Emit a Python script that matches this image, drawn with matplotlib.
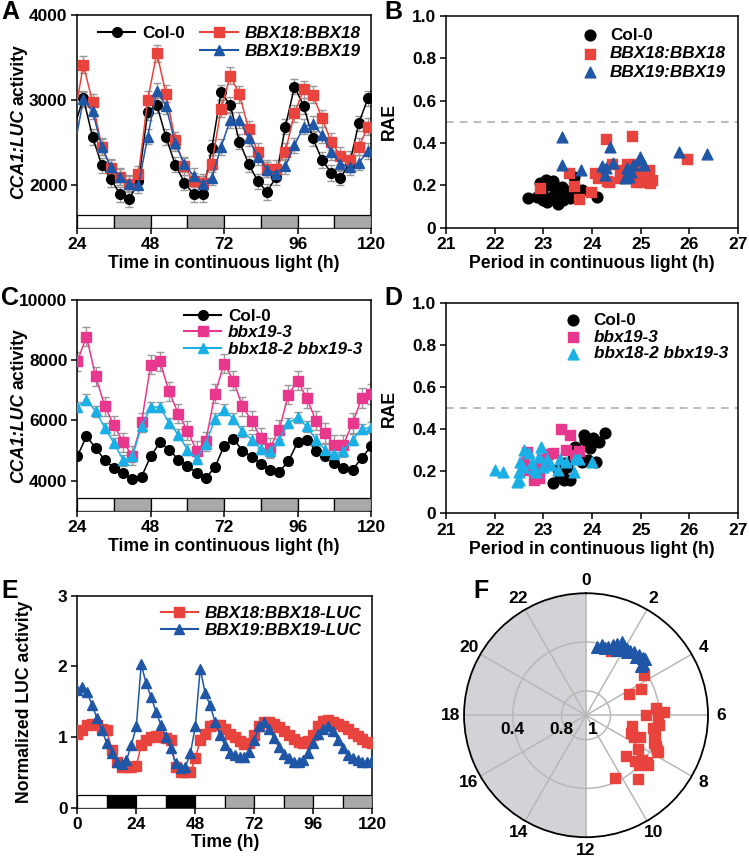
import numpy as np
import matplotlib.pyplot as plt
from matplotlib.lines import Line2D

plt.rcParams['font.family'] = 'Liberation Sans'
plt.rcParams['font.weight'] = 'bold'
plt.rcParams['axes.labelweight'] = 'bold'

# ---- data -------------------------------------------------------------
# A: CCA1:LUC in complemented lines (h in LL)
t_a = np.arange(23, 123, 3)
col0_a = [2690, 3024, 2567, 2236, 2071, 1894, 1838, 2045, 2859, 2945,
          2567, 2244, 2032, 1894, 1894, 2441, 3095, 2945, 2512, 2252,
          2047, 1921, 2098, 2689, 3161, 2933, 2552, 2299, 2146, 2091,
          2250, 2729, 3024, 3100]
bbx18_a = [2791, 3418, 2977, 2453, 2205, 2098, 2020, 2130, 3004, 3556,
           3075, 2532, 2225, 2047, 2028, 2256, 2898, 3288, 3071, 2662,
           2394, 2197, 2197, 2394, 2847, 3130, 3063, 2788, 2512, 2347,
           2303, 2453, 2689, 2700]
bbx19_a = [2440, 3010, 2870, 2452, 2210, 2098, 2020, 2000, 2571, 3114,
           2933, 2493, 2248, 2110, 2020, 2090, 2452, 2768, 2768, 2552,
           2334, 2185, 2138, 2225, 2472, 2689, 2721, 2591, 2393, 2256,
           2216, 2264, 2402, 2450]
err_a = {'col0': 90, 'bbx18': 100, 'bbx19': 90}

# C: CCA1:LUC in mutants
t_c = np.arange(24, 123, 3)
col0_c = [4806, 5470, 5085, 4674, 4421, 4255, 4056, 4133, 4806, 5271,
          5028, 4697, 4474, 4265, 4089, 4441, 5161, 5393, 4995, 4786,
          4564, 4365, 4289, 4640, 5271, 5360, 4995, 4806, 4587, 4421,
          4365, 4752, 5138]
bbx19_c = [7957, 8786, 7460, 6465, 5834, 5271, 4829, 5934, 7848, 7957,
           6962, 6222, 5659, 4995, 5300, 6886, 7881, 7317, 6465, 5990,
           5416, 5085, 5692, 6853, 7317, 6743, 5990, 5582, 5194, 5194,
           5914, 6743, 6876]
double_c = [6444, 6687, 6300, 5748, 5250, 4674, 4806, 5801, 6444, 6444,
            5914, 5526, 5028, 4720, 5217, 6056, 6355, 6056, 5635, 5360,
            5051, 4972, 5360, 5914, 6100, 5801, 5360, 5028, 4885, 4972,
            5360, 5714, 5768]
err_c = {'col0': 110, 'bbx19': 320, 'double': 180}

# light schedule bars
ld_ll = ['w', 'g', 'w', 'g', 'w', 'g', 'w', 'g']
ld_e = ['w', 'k', 'w', 'k', 'w', 'g', 'w', 'g', 'w', 'g']

# E: normalized LUC activity
t_e = np.arange(0, 121, 2)
bbx18_e = [1.05, 1.10, 1.17, 1.19, 1.17, 1.12, 1.10, 0.82, 0.65, 0.58,
           0.58, 0.58, 0.59, 0.89, 0.96, 1.00, 1.02, 1.00, 0.98, 0.96,
           0.58, 0.51, 0.50, 0.51, 0.70, 0.96, 1.05, 1.15, 1.17, 1.17,
           1.12, 1.05, 1.00, 0.95, 0.90, 0.92, 1.03, 1.15, 1.22, 1.22,
           1.18, 1.14, 1.08, 1.03, 0.97, 0.93, 0.92, 0.95, 1.03, 1.15,
           1.23, 1.24, 1.22, 1.18, 1.15, 1.11, 1.06, 1.01, 0.97, 0.93, 0.91]
bbx19_e = [1.66, 1.71, 1.64, 1.45, 1.27, 1.10, 0.91, 0.77, 0.65, 0.62,
           0.67, 0.89, 1.15, 2.03, 1.76, 1.57, 1.36, 1.17, 1.00, 0.84,
           0.63, 0.56, 0.58, 0.77, 1.15, 1.97, 1.62, 1.45, 1.22, 1.03,
           0.89, 0.78, 0.74, 0.72, 0.72, 0.79, 0.96, 1.15, 1.22, 1.12,
           0.98, 0.86, 0.76, 0.70, 0.65, 0.64, 0.67, 0.77, 0.91, 1.05,
           1.11, 1.15, 1.08, 0.96, 0.84, 0.75, 0.70, 0.67, 0.65, 0.65, 0.67]

# B: period / RAE
b_col0_per = [22.69, 22.86, 22.97, 23.06, 23.14, 23.07, 23.17, 23.24, 23.31, 23.34,
              23.41, 23.48, 23.55, 23.62, 23.63, 23.79, 24.11, 23.00, 23.24, 23.38,
              23.45, 22.93, 23.20, 23.52, 23.28]
b_col0_rae = [0.138, 0.143, 0.17, 0.225, 0.20, 0.123, 0.146, 0.186, 0.112, 0.162,
              0.13, 0.175, 0.138, 0.162, 0.24, 0.178, 0.143, 0.13, 0.13, 0.19,
              0.15, 0.21, 0.22, 0.155, 0.17]
b_bbx18_per = [22.94, 23.53, 23.63, 23.74, 23.97, 24.06, 24.12, 24.28, 24.30, 24.35,
               24.42, 24.57, 24.71, 24.83, 24.81, 24.87, 24.91, 25.01, 25.03, 25.17,
               25.19, 25.24, 25.96, 24.57, 24.65]
b_bbx18_rae = [0.186, 0.256, 0.198, 0.135, 0.17, 0.256, 0.233, 0.42, 0.22, 0.214,
               0.30, 0.27, 0.30, 0.434, 0.28, 0.30, 0.217, 0.264, 0.217, 0.272,
               0.21, 0.225, 0.324, 0.233, 0.25]
b_bbx19_per = [23.38, 23.38, 23.77, 24.20, 24.29, 24.37, 24.44, 24.71, 24.67, 24.81,
               24.84, 24.98, 24.99, 25.06, 25.79, 26.37, 24.26, 24.75]
b_bbx19_rae = [0.426, 0.296, 0.272, 0.292, 0.28, 0.379, 0.303, 0.28, 0.233, 0.264,
               0.296, 0.335, 0.32, 0.296, 0.358, 0.35, 0.25, 0.24]

# D: period / RAE
d_col0_per = [23.20, 23.34, 23.31, 23.42, 23.55, 23.48, 23.65, 23.68, 23.79, 23.83,
              23.85, 23.96, 23.92, 24.02, 24.08, 24.15, 24.26, 23.38, 23.60, 23.45]
d_col0_rae = [0.146, 0.174, 0.21, 0.158, 0.158, 0.22, 0.316, 0.266, 0.245, 0.372,
              0.348, 0.309, 0.253, 0.36, 0.245, 0.34, 0.38, 0.19, 0.28, 0.24]
d_bbx19_per = [23.37, 23.55, 23.46, 23.74, 23.65, 23.20, 22.70, 22.81, 22.91, 23.05,
               22.90, 22.97, 22.60, 22.67, 23.10]
d_bbx19_rae = [0.40, 0.372, 0.30, 0.297, 0.277, 0.288, 0.206, 0.158, 0.166, 0.237,
               0.22, 0.26, 0.237, 0.29, 0.28]
d_double_per = [22.00, 22.18, 22.46, 22.50, 22.53, 22.60, 22.59, 22.70, 22.77, 22.85,
                22.92, 22.95, 23.00, 23.07, 23.34, 23.30, 23.46, 23.62, 23.65, 23.74,
                23.99, 22.50, 22.80, 23.15]
d_double_rae = [0.206, 0.198, 0.15, 0.198, 0.245, 0.30, 0.22, 0.285, 0.237, 0.198,
                0.269, 0.316, 0.22, 0.26, 0.26, 0.206, 0.245, 0.198, 0.26, 0.256,
                0.245, 0.16, 0.21, 0.23]

# F: phase (h) / RAE
f_bbx18_phase = [1.43, 3.66, 4.27, 4.33, 5.60, 5.84, 6.00, 6.18, 6.49, 6.74,
                 6.87, 7.45, 7.49, 7.11, 7.46, 8.17, 7.75, 7.79, 9.06, 8.84,
                 8.59, 8.58, 8.88, 10.35, 9.39, 6.92, 7.58, 7.64, 8.50]
f_bbx18_rae = [0.43, 0.42, 0.61, 0.50, 0.42, 0.36, 0.51, 0.41, 0.40, 0.44,
               0.61, 0.60, 0.52, 0.41, 0.40, 0.49, 0.35, 0.34, 0.53, 0.45,
               0.41, 0.35, 0.40, 0.43, 0.33, 0.43, 0.37, 0.57, 0.37]
f_bbx19_phase = [0.63, 0.84, 1.21, 1.42, 1.57, 1.73, 1.90, 2.09, 2.27, 2.48,
                 2.75, 2.97, 3.10, 3.20, 3.21, 1.80, 1.69, 1.06, 2.73, 2.20]
f_bbx19_rae = [0.43, 0.41, 0.41, 0.38, 0.36, 0.33, 0.35, 0.36, 0.36, 0.35,
               0.34, 0.34, 0.33, 0.37, 0.39, 0.39, 0.41, 0.43, 0.37, 0.38]

period_ticks = [21, 22, 23, 24, 25, 26, 27]

RED = '#e8433c'
BLUE = '#1f56a5'
MAGENTA = '#e8388e'
CYAN = '#1ab0e6'
ERR = '#999999'
LD_COLORS = {'w': 'white', 'g': '#a9a9a9', 'k': 'black'}
TICK_FS = 12.5
LABEL_FS = 12.7
LEG_FS = 12.3


def draw_ld(ax, schedule, x0, y0, y1):
    for i, c in enumerate(schedule):
        ax.bar(x0 + 12 * i, y1 - y0, bottom=y0, width=12, align='edge',
               color=LD_COLORS[c], edgecolor='black', linewidth=0.9, zorder=4)


def style_axes(ax):
    for s in ax.spines.values():
        s.set_linewidth(1.1)
    ax.tick_params(direction='out', length=4, width=1.1, labelsize=TICK_FS, pad=3)


def series(ax, t, y, color, marker, ms, err=None, first=None, last=None):
    if err is not None:
        ax.errorbar(t[first:last], y[first:last], yerr=err, fmt='none', ecolor=ERR,
                    elinewidth=1, capsize=3, capthick=1, zorder=2)
    ax.plot(t, y, color=color, lw=1.1, zorder=3)
    ax.plot(t[first:last], y[first:last], ls='none', marker=marker, ms=ms,
            color=color, mec=color, zorder=3)


def luc_ylabel(ax, x):
    # italic gene name followed by upright "activity", stacked along the rotated axis
    t1 = ax.text(x, 0, 'CCA1:LUC', style='italic', rotation=90, fontsize=LABEL_FS,
                 transform=ax.transAxes, ha='center', va='bottom')
    t2 = ax.text(x, 0, 'activity', rotation=90, fontsize=LABEL_FS,
                 transform=ax.transAxes, ha='center', va='bottom')
    rend = fig.canvas.get_renderer()
    axh = ax.get_window_extent(rend).height
    h1 = t1.get_window_extent(rend).height / axh
    h2 = t2.get_window_extent(rend).height / axh
    gap = 4.0 / axh
    start = 0.5 - (h1 + gap + h2) / 2
    t1.set_y(start)
    t2.set_y(start + h1 + gap)


def rae_axes(ax):
    ax.axhline(0.5, color='#aaaaaa', ls=(0, (5, 4)), lw=1.1, zorder=1)
    ax.set_xlim(21, 27)
    ax.set_ylim(0, 1)
    ax.set_xticks(period_ticks)
    ax.set_yticks([0, 0.2, 0.4, 0.6, 0.8, 1.0])
    ax.set_yticklabels(['0', '0.2', '0.4', '0.6', '0.8', '1.0'])
    ax.set_xlabel('Period in continuous light (h)', fontsize=LABEL_FS, labelpad=2)
    ax.set_ylabel('RAE', fontsize=LABEL_FS)
    ax.yaxis.set_label_coords(-0.165, 0.5)
    style_axes(ax)


def label_ax(x, y, s):
    fig.text(x, y, s, fontsize=18, fontweight='bold', ha='left', va='top')


fig = plt.figure(figsize=(7.49, 8.6), dpi=100)

# ---- A -----------------------------------------------------------------
ax = fig.add_axes([0.1032, 0.7352, 0.3921, 0.2469])
series(ax, t_a, col0_a, 'black', 'o', 7, err_a['col0'], 1, -1)
series(ax, t_a, bbx18_a, RED, 's', 6.5, err_a['bbx18'], 1, -1)
series(ax, t_a, bbx19_a, BLUE, '^', 7, err_a['bbx19'], 1, -1)
draw_ld(ax, ld_ll, 24, 1500, 1655)
ax.set_xlim(24, 120)
ax.set_ylim(1500, 4000)
ax.set_xticks([24, 48, 72, 96, 120])
ax.set_yticks([2000, 3000, 4000])
ax.set_xlabel('Time in continuous light (h)', fontsize=LABEL_FS, labelpad=2)
style_axes(ax)
luc_ylabel(ax, -0.2)
h = [Line2D([], [], color='black', marker='o', ms=7),
     Line2D([], [], color='none'),
     Line2D([], [], color=RED, marker='s', ms=6.5),
     Line2D([], [], color=BLUE, marker='^', ms=7)]
leg = ax.legend(h, ['Col-0', '', 'BBX18:BBX18', 'BBX19:BBX19'], ncol=2,
                loc='upper right', frameon=False, fontsize=LEG_FS, handlelength=2.2,
                columnspacing=0.9, handletextpad=0.4, labelspacing=0.2,
                borderaxespad=0.2, bbox_to_anchor=(1.0, 1.0))
for txt in leg.get_texts()[2:]:
    txt.set_style('italic')

# ---- B -----------------------------------------------------------------
ax = fig.add_axes([0.5955, 0.7352, 0.3899, 0.2465])
ax.scatter(b_col0_per, b_col0_rae, s=60, marker='o', color='black', zorder=3, label='Col-0')
ax.scatter(b_bbx18_per, b_bbx18_rae, s=45, marker='s', color=RED, zorder=3, label='BBX18:BBX18')
ax.scatter(b_bbx19_per, b_bbx19_rae, s=60, marker='^', color=BLUE, zorder=3, label='BBX19:BBX19')
rae_axes(ax)
leg = ax.legend(loc='upper right', frameon=False, fontsize=LEG_FS, handletextpad=0.2,
                labelspacing=0.2, borderaxespad=0.3)
for txt in leg.get_texts()[1:]:
    txt.set_style('italic')

# ---- C -----------------------------------------------------------------
ax = fig.add_axes([0.1032, 0.4062, 0.3921, 0.2450])
series(ax, t_c, col0_c, 'black', 'o', 7, err_c['col0'])
series(ax, t_c, bbx19_c, MAGENTA, 's', 6.5, err_c['bbx19'])
series(ax, t_c, double_c, CYAN, '^', 7, err_c['double'])
draw_ld(ax, ld_ll, 24, 3000, 3430)
ax.set_xlim(24, 120)
ax.set_ylim(3000, 10000)
ax.set_xticks([24, 48, 72, 96, 120])
ax.set_yticks([4000, 6000, 8000, 10000])
ax.set_xlabel('Time in continuous light (h)', fontsize=LABEL_FS, labelpad=2)
style_axes(ax)
luc_ylabel(ax, -0.2)
h = [Line2D([], [], color='black', marker='o', ms=7),
     Line2D([], [], color=MAGENTA, marker='s', ms=6.5),
     Line2D([], [], color=CYAN, marker='^', ms=7)]
leg = ax.legend(h, ['Col-0', 'bbx19-3', 'bbx18-2 bbx19-3'], loc='upper right',
                frameon=False, fontsize=LEG_FS, handlelength=2.2, handletextpad=0.4,
                labelspacing=0.1, borderaxespad=0.1)
for txt in leg.get_texts()[1:]:
    txt.set_style('italic')

# ---- D -----------------------------------------------------------------
ax = fig.add_axes([0.5955, 0.4031, 0.3899, 0.2449])
ax.scatter(d_col0_per, d_col0_rae, s=60, marker='o', color='black', zorder=3, label='Col-0')
ax.scatter(d_bbx19_per, d_bbx19_rae, s=45, marker='s', color=MAGENTA, zorder=3, label='bbx19-3')
ax.scatter(d_double_per, d_double_rae, s=60, marker='^', color=CYAN, zorder=3, label='bbx18-2 bbx19-3')
rae_axes(ax)
leg = ax.legend(loc='upper right', frameon=False, fontsize=LEG_FS, handletextpad=0.2,
                labelspacing=0.1, borderaxespad=0.2)
for txt in leg.get_texts()[1:]:
    txt.set_style('italic')

# ---- E -----------------------------------------------------------------
ax = fig.add_axes([0.1032, 0.0608, 0.3939, 0.2465])
ax.plot(t_e, bbx18_e, color=RED, marker='s', ms=6.5, lw=1.1, zorder=3)
ax.plot(t_e, bbx19_e, color=BLUE, marker='^', ms=6.5, lw=1.1, zorder=3)
draw_ld(ax, ld_e, 0, 0, 0.18)
ax.set_xlim(0, 120)
ax.set_ylim(0, 3)
ax.set_xticks([0, 24, 48, 72, 96, 120])
ax.set_yticks([0, 1, 2, 3])
ax.set_xlabel('Time (h)', fontsize=LABEL_FS, labelpad=1)
ax.set_ylabel('Normalized LUC activity', fontsize=LABEL_FS)
ax.yaxis.set_label_coords(-0.15, 0.5)
style_axes(ax)
h = [Line2D([], [], color=RED, marker='s', ms=6.5),
     Line2D([], [], color=BLUE, marker='^', ms=7)]
leg = ax.legend(h, ['BBX18:BBX18-LUC', 'BBX19:BBX19-LUC'], loc='upper right',
                frameon=False, fontsize=LEG_FS, handlelength=2.2, handletextpad=0.4,
                labelspacing=0.1, borderaxespad=0.2)
for txt in leg.get_texts():
    txt.set_style('italic')

# ---- F -----------------------------------------------------------------
ax = fig.add_axes([0.6195, 0.0265, 0.3258, 0.2837], projection='polar')
ax.set_theta_zero_location('N')
ax.set_theta_direction(-1)
ax.fill_between(np.linspace(np.pi, 2 * np.pi, 200), 0, 1, color='#d3d3d7',
                lw=0, zorder=0)
ax.scatter(np.array(f_bbx18_phase) / 24 * 2 * np.pi, 1 - np.array(f_bbx18_rae),
           s=55, marker='s', color=RED, zorder=3, clip_on=False)
ax.scatter(np.array(f_bbx19_phase) / 24 * 2 * np.pi, 1 - np.array(f_bbx19_rae),
           s=70, marker='^', color=BLUE, zorder=3, clip_on=False)
ax.set_ylim(0, 1)
ax.set_yticks([0.2, 0.6])
ax.set_yticklabels([])
hours = np.arange(0, 24, 2)
ax.set_xticks(hours / 24 * 2 * np.pi)
ax.set_xticklabels([str(v) for v in hours])
ax.grid(color='#b8b8b8', lw=1.1)
ax.spines['polar'].set_linewidth(1.3)
ax.tick_params(axis='x', labelsize=TICK_FS, pad=-1)
for r, s in [(0.6, '0.4'), (0.2, '0.8')]:
    ax.annotate(s, xy=(1.5 * np.pi, r), xytext=(0, -10), textcoords='offset points',
                ha='center', va='center', fontsize=TICK_FS, fontweight='bold')
ax.annotate('1', xy=(0, 0), xytext=(5, -10), textcoords='offset points',
            ha='center', va='center', fontsize=TICK_FS, fontweight='bold')

label_ax(0.002, 1.0, 'A')
label_ax(0.513, 1.0, 'B')
label_ax(0.002, 0.667, 'C')
label_ax(0.513, 0.667, 'D')
label_ax(0.002, 0.327, 'E')
label_ax(0.632, 0.327, 'F')

fig.savefig('out.png', dpi=100)
